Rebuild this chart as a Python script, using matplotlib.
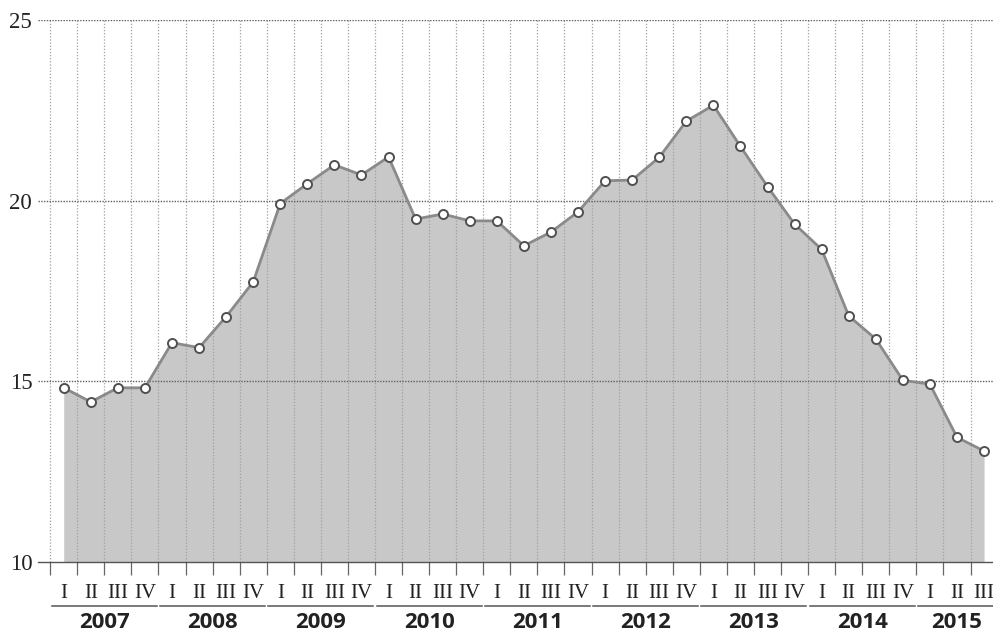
import matplotlib
matplotlib.use("Agg")
import matplotlib.pyplot as plt
import matplotlib.transforms as mtransforms

years = ["2007", "2008", "2009", "2010", "2011", "2012", "2013", "2014", "2015"]
quarters = ["I", "II", "III", "IV"]
values = [14.82, 14.43, 14.82, 14.82,
          16.07, 15.93, 16.79, 17.75,
          19.92, 20.47, 20.99, 20.71,
          21.21, 19.49, 19.63, 19.44,
          19.44, 18.75, 19.13, 19.69,
          20.55, 20.57, 21.20, 22.20,
          22.64, 21.50, 20.39, 19.35,
          18.65, 16.81, 16.17, 15.03,
          14.92, 13.45, 13.07]
y_ticks = [10, 15, 20, 25]

n = len(values)
x = list(range(n))
q_labels = [quarters[i % 4] for i in range(n)]

fig = plt.figure(figsize=(9.93, 6.32), dpi=100)
ax = fig.add_axes([0.038, 0.1108, 0.962, 0.8576])

ax.fill_between(x, values, 10, color="#c8c8c8", lw=0, zorder=1)
ax.vlines([i - 0.5 for i in range(n)], 10, 25, colors="#a0a0a0",
          linestyles=(0, (1, 1.5)), lw=0.9, zorder=2)
for yv in [15, 20, 25]:
    ax.axhline(yv, color="#606060", ls=(0, (1, 1)), lw=1, zorder=2)
ax.plot(x, values, color="#8a8a8a", lw=2, zorder=3)
ax.plot(x, values, "o", ms=6.5, mfc="white", mec="#505050", mew=1.4, zorder=4)

ax.set_xlim(-0.96, 34.33)
ax.set_ylim(10, 25)
for s in ["top", "right", "left"]:
    ax.spines[s].set_visible(False)
ax.spines["bottom"].set_color("#555555")
ax.spines["bottom"].set_linewidth(1)

ax.set_yticks(y_ticks)
ax.set_yticklabels([str(v) for v in y_ticks], fontfamily="Liberation Serif",
                   fontsize=16.5, color="#222222")
ax.tick_params(axis="y", length=0, pad=4)

ax.set_xticks([i - 0.5 for i in range(n)])
ax.set_xticklabels([])
ax.tick_params(axis="x", direction="out", length=9.5, width=0.9, color="#666666")

trans = mtransforms.blended_transform_factory(ax.transData, ax.transAxes)
for i, q in enumerate(q_labels):
    ax.text(i, -0.059, q, transform=trans, ha="center", va="center",
            fontfamily="Liberation Serif", fontsize=15, color="#222222")

for k, yr in enumerate(years):
    i0 = 4 * k
    i1 = min(i0 + 3, n - 1)
    left = i0 - 0.5 + 0.06
    right = i1 + 0.5 - 0.06 if i1 < n - 1 else 34.33
    ax.plot([left, right], [-0.081, -0.081], transform=trans, clip_on=False,
            color="#555555", lw=1.1)
    ax.text((i0 + i1) / 2, -0.112, yr, transform=trans, ha="center", va="center",
            fontfamily="Open Sans", fontweight="bold", fontsize=16, color="#222222")

fig.savefig("out.png", dpi=100)
